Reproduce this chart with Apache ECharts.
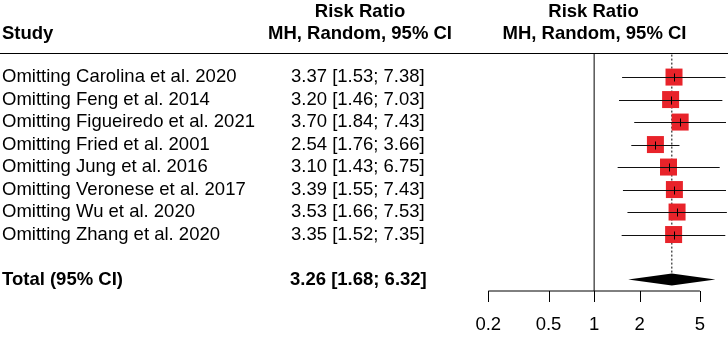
<!DOCTYPE html>
<html>
<head>
<meta charset="utf-8">
<script src="https://cdn.jsdelivr.net/npm/echarts@6/dist/echarts.min.js"></script>
<style>
html, body { margin: 0; padding: 0; background: #fff; }
#main { width: 728px; height: 338px; }
</style>
</head>
<body>
<div id="main"></div>
<script>
var studies = ['Omitting Carolina et al. 2020', 'Omitting Feng et al. 2014', 'Omitting Figueiredo et al. 2021',
    'Omitting Fried et al. 2001', 'Omitting Jung et al. 2016', 'Omitting Veronese et al. 2017',
    'Omitting Wu et al. 2020', 'Omitting Zhang et al. 2020'];
var rr = [3.37, 3.20, 3.70, 2.54, 3.10, 3.39, 3.53, 3.35];
var lower = [1.53, 1.46, 1.84, 1.76, 1.43, 1.55, 1.66, 1.52];
var upper = [7.38, 7.03, 7.43, 3.66, 6.75, 7.43, 7.53, 7.35];
var totalLabel = 'Total (95% CI)';
var totalRR = 3.26, totalLower = 1.68, totalUpper = 6.32;
var axisTicks = [0.2, 0.5, 1, 2, 5];

window.onload = function () {
    var FONT = "'Liberation Sans', Arial, sans-serif";
    var FS = '18.5px ';
    var totalRow = 9;
    var yMin = -1.07, yMax = 9.51;

    function fmt(v) { return v.toFixed(2); }
    function ciText(m, l, u) { return fmt(m) + ' [' + fmt(l) + '; ' + fmt(u) + ']'; }

    // left table: [x, row, text, weight]
    var tableData = [];
    studies.forEach(function (s, i) {
        tableData.push([2, i, s, 'normal']);
        tableData.push([291, i, ciText(rr[i], lower[i], upper[i]), 'normal']);
    });
    tableData.push([2, totalRow, totalLabel, 'bold']);
    tableData.push([290, totalRow, ciText(totalRR, totalLower, totalUpper), 'bold']);

    var ciData = rr.map(function (v, i) { return [lower[i], upper[i], v, i]; });

    var chart = echarts.init(document.getElementById('main'));

    var option = {
        animation: false,
        backgroundColor: '#fff',
        grid: [
            { left: 0, top: 53, width: 480, bottom: 47 },
            { left: 488.3, top: 53, right: 0, bottom: 47 }
        ],
        xAxis: [
            { gridIndex: 0, type: 'value', min: 0, max: 480, show: false },
            { gridIndex: 1, type: 'log', logBase: 10, min: 0.2, max: 7.66, show: false }
        ],
        yAxis: [
            { gridIndex: 0, type: 'value', inverse: true, min: yMin, max: yMax, show: false },
            { gridIndex: 1, type: 'value', inverse: true, min: yMin, max: yMax, show: false }
        ],
        graphic: [
            { type: 'text', x: 2, y: 34, style: { text: 'Study', font: 'bold ' + FS + FONT, fill: '#000', align: 'left', verticalAlign: 'middle' } },
            { type: 'text', x: 360, y: 12, style: { text: 'Risk Ratio', font: 'bold ' + FS + FONT, fill: '#000', align: 'center', verticalAlign: 'middle' } },
            { type: 'text', x: 360, y: 34, style: { text: 'MH, Random, 95% CI', font: 'bold ' + FS + FONT, fill: '#000', align: 'center', verticalAlign: 'middle' } },
            { type: 'text', x: 593.5, y: 12, style: { text: 'Risk Ratio', font: 'bold ' + FS + FONT, fill: '#000', align: 'center', verticalAlign: 'middle' } },
            { type: 'text', x: 594.5, y: 34, style: { text: 'MH, Random, 95% CI', font: 'bold ' + FS + FONT, fill: '#000', align: 'center', verticalAlign: 'middle' } },
            { type: 'line', shape: { x1: 0, y1: 53.5, x2: 728, y2: 53.5 }, style: { stroke: '#000', lineWidth: 1 } }
        ],
        series: [
            {
                type: 'custom',
                xAxisIndex: 0, yAxisIndex: 0,
                data: tableData,
                renderItem: function (params, api) {
                    var d = tableData[params.dataIndex];
                    var p = api.coord([d[0], d[1]]);
                    return {
                        type: 'text', x: p[0], y: p[1],
                        style: { text: d[2], font: d[3] + ' ' + FS + FONT, fill: '#000', align: 'left', verticalAlign: 'middle' }
                    };
                }
            },
            {
                // line of no effect
                type: 'line', xAxisIndex: 1, yAxisIndex: 1, clip: false, symbol: 'none', silent: true,
                data: [[1, yMin], [1, yMax]],
                lineStyle: { color: '#000', width: 1 }
            },
            {
                // pooled estimate
                type: 'line', xAxisIndex: 1, yAxisIndex: 1, clip: false, symbol: 'none', silent: true,
                data: [[totalRR, -1.0], [totalRR, 8.75]],
                lineStyle: { color: '#000', width: 1, type: [2, 2] }
            },
            {
                type: 'scatter', xAxisIndex: 1, yAxisIndex: 1, symbol: 'rect', symbolSize: 17,
                itemStyle: { color: '#e8232a', opacity: 1 },
                data: rr.map(function (v, i) { return [v, i]; }),
                z: 3
            },
            {
                type: 'custom', xAxisIndex: 1, yAxisIndex: 1,
                data: ciData,
                encode: { x: [0, 1, 2], y: 3 },
                z: 4,
                renderItem: function (params, api) {
                    var a = api.coord([api.value(0), api.value(3)]);
                    var b = api.coord([api.value(1), api.value(3)]);
                    var m = api.coord([api.value(2), api.value(3)]);
                    var yy = Math.round(a[1]) + 0.5;
                    var xm = Math.round(m[0]) + 0.5;
                    return {
                        type: 'group',
                        children: [
                            { type: 'line', shape: { x1: a[0], y1: yy, x2: b[0], y2: yy }, style: { stroke: '#111', lineWidth: 1.2 } },
                            { type: 'line', shape: { x1: xm, y1: yy - 4, x2: xm, y2: yy + 4 }, style: { stroke: '#000', lineWidth: 1 } }
                        ]
                    };
                }
            },
            {
                type: 'custom', xAxisIndex: 1, yAxisIndex: 1,
                data: [[totalLower, totalUpper, totalRR, totalRow]],
                encode: { x: [0, 1, 2], y: 3 },
                z: 4,
                renderItem: function (params, api) {
                    var h = 0.27;
                    var r = api.value(3);
                    var pts = [
                        api.coord([api.value(0), r]),
                        api.coord([api.value(2), r - h]),
                        api.coord([api.value(1), r]),
                        api.coord([api.value(2), r + h])
                    ];
                    return { type: 'polygon', shape: { points: pts }, style: { fill: '#000' } };
                }
            },
            {
                // x axis line from first to last tick
                type: 'line', xAxisIndex: 1, yAxisIndex: 1, clip: false, symbol: 'none', silent: true,
                data: [[axisTicks[0], yMax], [axisTicks[axisTicks.length - 1], yMax]],
                lineStyle: { color: '#000', width: 1 }
            },
            {
                type: 'custom', xAxisIndex: 1, yAxisIndex: 1,
                data: axisTicks.map(function (t) { return [t, yMax]; }),
                renderItem: function (params, api) {
                    var p = api.coord([api.value(0), api.value(1)]);
                    var x = Math.round(p[0]) + 0.5;
                    return {
                        type: 'group',
                        children: [
                            { type: 'line', shape: { x1: x, y1: p[1], x2: x, y2: p[1] + 11 }, style: { stroke: '#000', lineWidth: 1 } },
                            { type: 'text', x: p[0], y: p[1] + 34, style: { text: String(axisTicks[params.dataIndex]), font: FS + FONT, fill: '#000', align: 'center', verticalAlign: 'middle' } }
                        ]
                    };
                }
            }
        ]
    };
    chart.setOption(option);
};
</script>
</body>
</html>
